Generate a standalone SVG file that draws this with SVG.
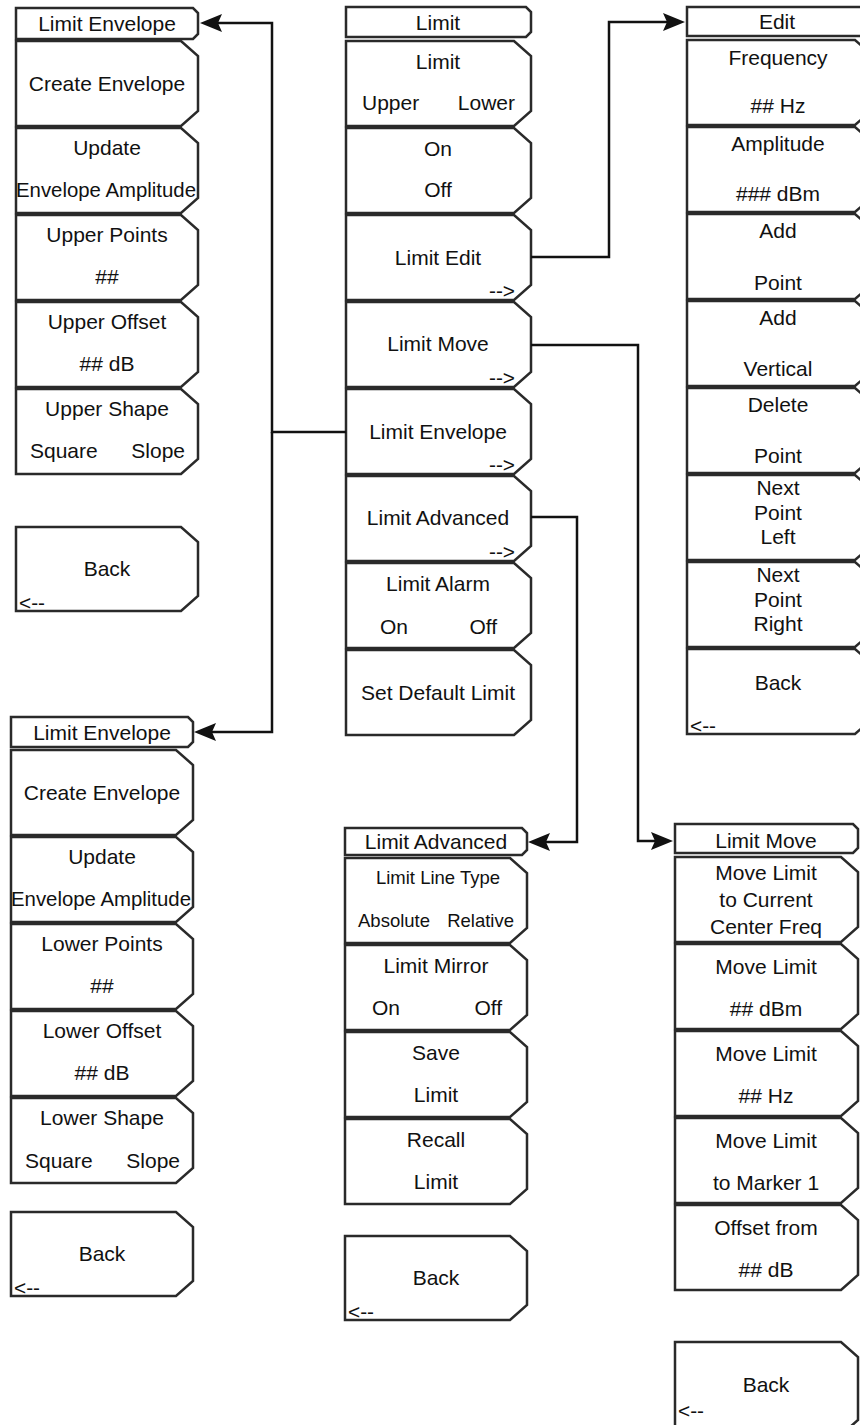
<svg xmlns="http://www.w3.org/2000/svg" width="860" height="1425" viewBox="0 0 860 1425">
  <defs>
    <style>
      .box { fill: #fff; stroke: #2a2a2a; stroke-width: 2.5; stroke-linejoin: miter; }
      .t { font-family: "Liberation Sans", Arial, sans-serif; font-size: 21px; fill: #111; text-anchor: middle; }
      .l { text-anchor: start; }
      .r { text-anchor: end; }
      .s { font-size: 18.5px; }
      .nav { font-family: "Liberation Sans", Arial, sans-serif; font-size: 20px; fill: #111; }
      .fwd { text-anchor: end; }
      .wire { fill: none; stroke: #111; stroke-width: 2.5; }
    </style>
    <marker id="head" markerUnits="userSpaceOnUse" markerWidth="22" markerHeight="18" refX="12" refY="9" orient="auto">
      <path d="M0,0 L22,9 L0,18 L4,9 z" fill="#111"/>
    </marker>
  </defs>
  <rect width="860" height="1425" fill="#fff"/>

  <!-- Upper envelope menu -->
  <g id="menu-envelope-upper">
    <polygon class="box" points="16,8 193,8 198,13 198,34 193,39 16,39"/>
    <text class="t" x="107" y="31">Limit Envelope</text>
    <polygon class="box" points="16,41 181,41 198,56 198,111 181,126 16,126"/>
    <text class="t" x="107" y="91">Create Envelope</text>
    <polygon class="box" points="16,128 181,128 198,143 198,198 181,213 16,213"/>
    <text class="t" x="107" y="155">Update</text>
    <text class="t" x="106" y="197" textLength="180" lengthAdjust="spacingAndGlyphs">Envelope Amplitude</text>
    <polygon class="box" points="16,215 181,215 198,230 198,285 181,300 16,300"/>
    <text class="t" x="107" y="242">Upper Points</text>
    <text class="t" x="107" y="284">##</text>
    <polygon class="box" points="16,302 181,302 198,317 198,372 181,387 16,387"/>
    <text class="t" x="107" y="329">Upper Offset</text>
    <text class="t" x="107" y="371">## dB</text>
    <polygon class="box" points="16,389 181,389 198,404 198,459 181,474 16,474"/>
    <text class="t" x="107" y="416">Upper Shape</text>
    <text class="t l" x="30" y="458">Square</text>
    <text class="t r" x="185" y="458">Slope</text>
  </g>
  <g id="back-envelope-upper">
    <polygon class="box" points="16,527 181,527 198,542 198,596 181,611 16,611"/>
    <text class="t" x="107" y="576">Back</text>
    <text class="nav" x="19" y="610" textLength="26" lengthAdjust="spacingAndGlyphs">&lt;--</text>
  </g>

  <!-- Lower envelope menu -->
  <g id="menu-envelope-lower">
    <polygon class="box" points="11,717 188,717 193,722 193,742 188,747 11,747"/>
    <text class="t" x="102" y="740">Limit Envelope</text>
    <polygon class="box" points="11,750 176,750 193,765 193,820 176,835 11,835"/>
    <text class="t" x="102" y="800">Create Envelope</text>
    <polygon class="box" points="11,837 176,837 193,852 193,907 176,922 11,922"/>
    <text class="t" x="102" y="864">Update</text>
    <text class="t" x="101" y="906" textLength="180" lengthAdjust="spacingAndGlyphs">Envelope Amplitude</text>
    <polygon class="box" points="11,924 176,924 193,939 193,994 176,1009 11,1009"/>
    <text class="t" x="102" y="951">Lower Points</text>
    <text class="t" x="102" y="993">##</text>
    <polygon class="box" points="11,1011 176,1011 193,1026 193,1081 176,1096 11,1096"/>
    <text class="t" x="102" y="1038">Lower Offset</text>
    <text class="t" x="102" y="1080">## dB</text>
    <polygon class="box" points="11,1098 176,1098 193,1113 193,1168 176,1183 11,1183"/>
    <text class="t" x="102" y="1125">Lower Shape</text>
    <text class="t l" x="25" y="1168">Square</text>
    <text class="t r" x="180" y="1168">Slope</text>
  </g>
  <g id="back-envelope-lower">
    <polygon class="box" points="11,1212 176,1212 193,1227 193,1281 176,1296 11,1296"/>
    <text class="t" x="102" y="1261">Back</text>
    <text class="nav" x="14" y="1295" textLength="26" lengthAdjust="spacingAndGlyphs">&lt;--</text>
  </g>

  <!-- Main limit menu -->
  <g id="menu-limit">
    <polygon class="box" points="346,7 526,7 531,12 531,32 526,37 346,37"/>
    <text class="t" x="438" y="30">Limit</text>
    <polygon class="box" points="346,41 514,41 531,56 531,111 514,126 346,126"/>
    <text class="t" x="438" y="69">Limit</text>
    <text class="t l" x="362" y="110">Upper</text>
    <text class="t r" x="515" y="110">Lower</text>
    <polygon class="box" points="346,128 514,128 531,143 531,198 514,213 346,213"/>
    <text class="t" x="438" y="156">On</text>
    <text class="t" x="438" y="197">Off</text>
    <polygon class="box" points="346,215 514,215 531,230 531,285 514,300 346,300"/>
    <text class="t" x="438" y="265">Limit Edit</text>
    <text class="nav" x="489" y="298" textLength="26" lengthAdjust="spacingAndGlyphs">--&gt;</text>
    <polygon class="box" points="346,302 514,302 531,317 531,372 514,387 346,387"/>
    <text class="t" x="438" y="351">Limit Move</text>
    <text class="nav" x="489" y="385" textLength="26" lengthAdjust="spacingAndGlyphs">--&gt;</text>
    <polygon class="box" points="346,389 514,389 531,404 531,459 514,474 346,474"/>
    <text class="t" x="438" y="439">Limit Envelope</text>
    <text class="nav" x="489" y="472" textLength="26" lengthAdjust="spacingAndGlyphs">--&gt;</text>
    <polygon class="box" points="346,476 514,476 531,491 531,546 514,561 346,561"/>
    <text class="t" x="438" y="525">Limit Advanced</text>
    <text class="nav" x="489" y="559" textLength="26" lengthAdjust="spacingAndGlyphs">--&gt;</text>
    <polygon class="box" points="346,563 514,563 531,578 531,633 514,648 346,648"/>
    <text class="t" x="438" y="591">Limit Alarm</text>
    <text class="t l" x="380" y="634">On</text>
    <text class="t r" x="497" y="634">Off</text>
    <polygon class="box" points="346,650 514,650 531,665 531,720 514,735 346,735"/>
    <text class="t" x="438" y="700">Set Default Limit</text>
  </g>

  <!-- Edit menu -->
  <g id="menu-edit">
    <polygon class="box" points="687,7 867,7 872,12 872,31 867,36 687,36"/>
    <text class="t" x="777" y="29">Edit</text>
    <polygon class="box" points="687,40 855,40 872,55 872,110 855,125 687,125"/>
    <text class="t" x="778" y="65">Frequency</text>
    <text class="t" x="778" y="113">## Hz</text>
    <polygon class="box" points="687,127 855,127 872,142 872,197 855,212 687,212"/>
    <text class="t" x="778" y="151">Amplitude</text>
    <text class="t" x="778" y="201">### dBm</text>
    <polygon class="box" points="687,214 855,214 872,229 872,284 855,299 687,299"/>
    <text class="t" x="778" y="238">Add</text>
    <text class="t" x="778" y="290">Point</text>
    <polygon class="box" points="687,301 855,301 872,316 872,371 855,386 687,386"/>
    <text class="t" x="778" y="325">Add</text>
    <text class="t" x="778" y="376">Vertical</text>
    <polygon class="box" points="687,388 855,388 872,403 872,458 855,473 687,473"/>
    <text class="t" x="778" y="412">Delete</text>
    <text class="t" x="778" y="463">Point</text>
    <polygon class="box" points="687,475 855,475 872,490 872,545 855,560 687,560"/>
    <text class="t" x="778" y="495">Next</text>
    <text class="t" x="778" y="520">Point</text>
    <text class="t" x="778" y="544">Left</text>
    <polygon class="box" points="687,562 855,562 872,577 872,632 855,647 687,647"/>
    <text class="t" x="778" y="582">Next</text>
    <text class="t" x="778" y="607">Point</text>
    <text class="t" x="778" y="631">Right</text>
    <polygon class="box" points="687,649 855,649 872,664 872,719 855,734 687,734"/>
    <text class="t" x="778" y="690">Back</text>
    <text class="nav" x="690" y="733" textLength="26" lengthAdjust="spacingAndGlyphs">&lt;--</text>
  </g>

  <!-- Advanced menu -->
  <g id="menu-advanced">
    <polygon class="box" points="345,828 522,828 527,833 527,850 522,855 345,855"/>
    <text class="t" x="436" y="849">Limit Advanced</text>
    <polygon class="box" points="345,858 510,858 527,873 527,928 510,943 345,943"/>
    <text class="t s" x="438" y="884">Limit Line Type</text>
    <text class="t s l" x="358" y="927">Absolute</text>
    <text class="t s r" x="514" y="927">Relative</text>
    <polygon class="box" points="345,945 510,945 527,960 527,1015 510,1030 345,1030"/>
    <text class="t" x="436" y="973">Limit Mirror</text>
    <text class="t l" x="372" y="1015">On</text>
    <text class="t r" x="502" y="1015">Off</text>
    <polygon class="box" points="345,1032 510,1032 527,1047 527,1102 510,1117 345,1117"/>
    <text class="t" x="436" y="1060">Save</text>
    <text class="t" x="436" y="1102">Limit</text>
    <polygon class="box" points="345,1119 510,1119 527,1134 527,1189 510,1204 345,1204"/>
    <text class="t" x="436" y="1147">Recall</text>
    <text class="t" x="436" y="1189">Limit</text>
  </g>
  <g id="back-advanced">
    <polygon class="box" points="345,1236 510,1236 527,1251 527,1305 510,1320 345,1320"/>
    <text class="t" x="436" y="1285">Back</text>
    <text class="nav" x="348" y="1319" textLength="26" lengthAdjust="spacingAndGlyphs">&lt;--</text>
  </g>

  <!-- Move menu -->
  <g id="menu-move">
    <polygon class="box" points="675,824 853,824 858,829 858,848 853,853 675,853"/>
    <text class="t" x="766" y="848">Limit Move</text>
    <polygon class="box" points="675,857 841,857 858,872 858,927 841,942 675,942"/>
    <text class="t" x="766" y="880">Move Limit</text>
    <text class="t" x="766" y="907">to Current</text>
    <text class="t" x="766" y="934">Center Freq</text>
    <polygon class="box" points="675,944 841,944 858,959 858,1014 841,1029 675,1029"/>
    <text class="t" x="766" y="974">Move Limit</text>
    <text class="t" x="766" y="1016">## dBm</text>
    <polygon class="box" points="675,1031 841,1031 858,1046 858,1101 841,1116 675,1116"/>
    <text class="t" x="766" y="1061">Move Limit</text>
    <text class="t" x="766" y="1103">## Hz</text>
    <polygon class="box" points="675,1118 841,1118 858,1133 858,1188 841,1203 675,1203"/>
    <text class="t" x="766" y="1148">Move Limit</text>
    <text class="t" x="766" y="1190">to Marker 1</text>
    <polygon class="box" points="675,1205 841,1205 858,1220 858,1275 841,1290 675,1290"/>
    <text class="t" x="766" y="1235">Offset from</text>
    <text class="t" x="766" y="1277">## dB</text>
  </g>
  <g id="back-move">
    <polygon class="box" points="675,1342 841,1342 858,1357 858,1420 841,1435 675,1435"/>
    <text class="t" x="766" y="1392">Back</text>
    <text class="nav" x="678" y="1418" textLength="26" lengthAdjust="spacingAndGlyphs">&lt;--</text>
  </g>

  <!-- Connectors -->
  <g id="connectors">
    <path class="wire" d="M346,432 H272 V23 H210" marker-end="url(#head)"/>
    <path class="wire" d="M272,432 V732 H204" marker-end="url(#head)"/>
    <path class="wire" d="M531,257 H609 V22 H675" marker-end="url(#head)"/>
    <path class="wire" d="M531,345 H638 V841 H663" marker-end="url(#head)"/>
    <path class="wire" d="M531,517 H577 V842 H538" marker-end="url(#head)"/>
  </g>
</svg>
